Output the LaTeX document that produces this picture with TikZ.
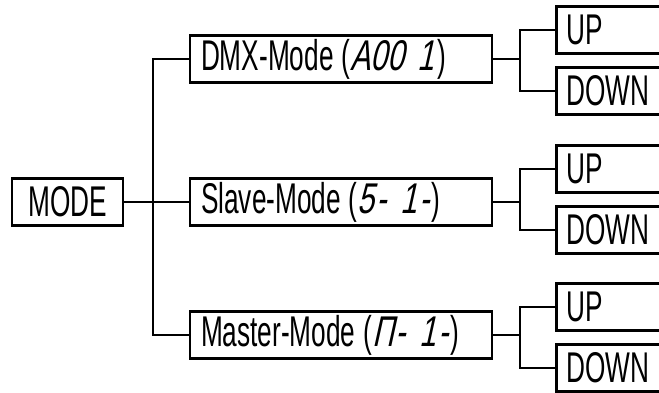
\documentclass[tikz,border=0pt]{standalone}
\usepackage{fontspec}
\setmainfont{Liberation Sans}[FakeStretch=0.61]
\newfontfamily\segfont{Liberation Sans}[FakeStretch=0.7, FakeSlant=0.22]
\begin{document}
\begin{tikzpicture}[x=1pt, y=-1pt, line width=2.6pt, font=\fontsize{43}{45}\selectfont,
    box/.style={draw, inner sep=0pt, minimum height=47pt},
    mid/.style={box, text width=280pt, align=left, inner xsep=11pt},
    leaf/.style={box, anchor=west, text width=140pt, align=left, inner xsep=10pt}]
    \useasboundingbox (0,0) rectangle (659,392);
    \clip (0,0) rectangle (659,392);
    % left column
    \node[box, minimum width=111pt] (mode) at (67.5,202) {MODE};
    \coordinate (jl) at (153,202);
    % middle column
    \node[mid] (dmx) at (341,59) {DMX-Mode\hspace{8pt}({\segfont A00\hspace{14pt}1\hspace{3pt}})};
    \node[mid] (slave) at (341,202) {Slave-Mode\hspace{8pt}({\segfont 5\hspace{2pt}-\hspace{14pt}1\hspace{2pt}-\hspace{2pt}})};
    \node[mid] (master) at (341,335) {Master-Mode\hspace{8pt}({\segfont Π\hspace{2pt}-\hspace{14pt}1\hspace{2pt}-\hspace{2pt}})};
    % right column
    \node[leaf] (up1) at (555,30) {UP};
    \node[leaf] (down1) at (555,91) {DOWN};
    \node[leaf] (up2) at (555,169) {UP};
    \node[leaf] (down2) at (555,230) {DOWN};
    \node[leaf] (up3) at (555,307) {UP};
    \node[leaf] (down3) at (555,368) {DOWN};
    \coordinate (jr1) at (520,59);
    \coordinate (jr2) at (520,202);
    \coordinate (jr3) at (520,335);
    % connectors
    \draw (mode.east) -- (jl) -- (slave.west);
    \draw (dmx.west) -| (jl) |- (master.west);
    \draw (dmx.east) -- (jr1);
    \draw (up1.west) -| (jr1) |- (down1.west);
    \draw (slave.east) -- (jr2);
    \draw (up2.west) -| (jr2) |- (down2.west);
    \draw (master.east) -- (jr3);
    \draw (up3.west) -| (jr3) |- (down3.west);
\end{tikzpicture}
\end{document}
